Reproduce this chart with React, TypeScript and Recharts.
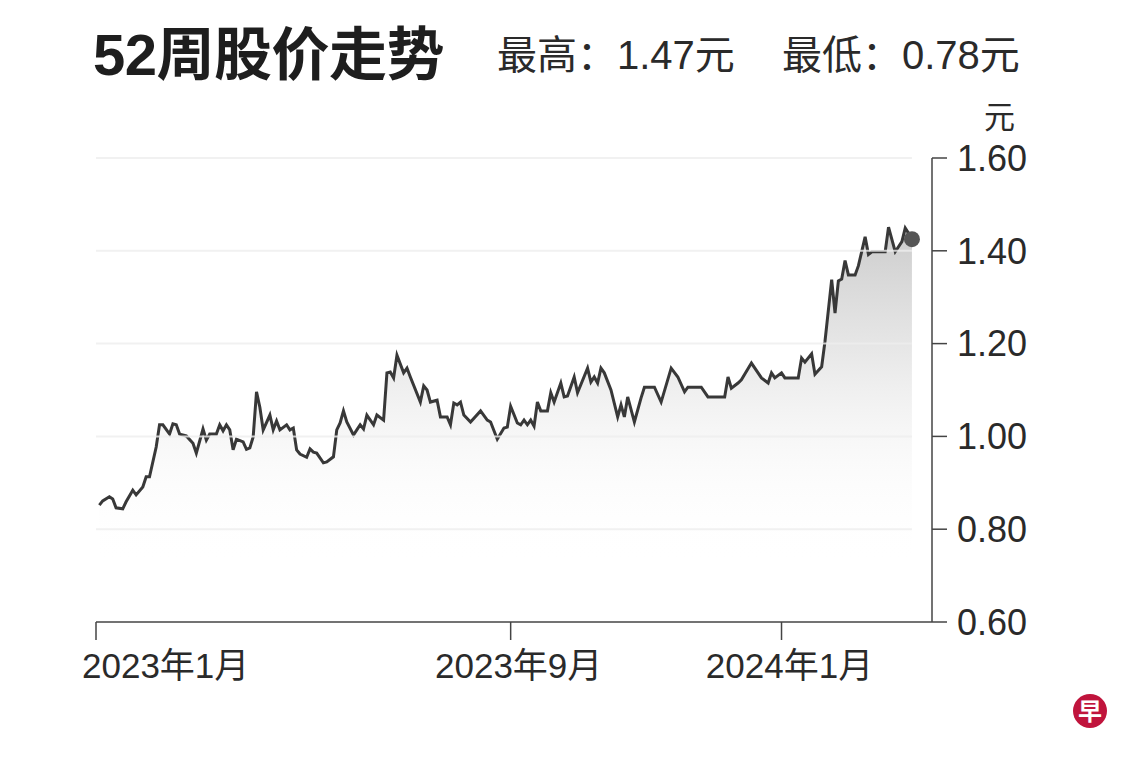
import { ComposedChart, Area, XAxis, YAxis, ReferenceLine, ReferenceDot } from "recharts";

// trading-day index (0 = start of Jan 2023) and closing price in 元
const tradingDays = [
  1, 2, 4, 5, 6, 8, 9, 11, 12, 14, 15, 16, 18, 19, 20, 22, 23, 24, 25, 27,
  29, 30, 32, 33, 34, 36, 37, 38, 39, 40, 41, 42, 44, 45, 46, 47, 48, 49, 50, 52,
  53, 54, 55, 57, 58, 59, 60, 61, 63, 64, 65, 66, 68, 69, 71, 72, 73, 74, 75, 77,
  78, 79, 80, 81, 83, 84, 86, 87, 88, 89, 90, 92, 93, 94, 97, 98, 99, 100, 102, 103,
  105, 106, 107, 108, 109, 110, 112, 115, 117, 118, 120, 122, 123, 124, 126, 127, 128, 129, 130, 131,
  132, 133, 135, 136, 137, 139, 140, 141, 143, 144, 147, 148, 149, 150, 151, 152, 154, 156, 157, 158,
  159, 161, 163, 164, 167, 169, 172, 174, 176, 177, 181, 183, 188, 189, 190, 192, 193, 196, 199, 201,
  202, 203, 205, 206, 210, 211, 212, 214, 215, 217, 218, 220, 221, 222, 223, 224, 225, 227, 228, 230,
  231, 232, 236, 237, 239, 241, 242, 243, 244,
];

const closePrices = [
  0.852, 0.861, 0.87, 0.865, 0.846, 0.844, 0.859, 0.884, 0.874, 0.891, 0.913, 0.913, 0.977, 1.025, 1.025, 1.005, 1.027, 1.025, 1.005, 1.001,
  0.985, 0.964, 1.016, 0.992, 1.005, 1.005, 1.025, 1.012, 1.025, 1.014, 0.971, 0.994, 0.988, 0.972, 0.975, 0.999, 1.096, 1.063, 1.014, 1.046,
  1.014, 1.033, 1.014, 1.025, 1.014, 1.018, 0.971, 0.962, 0.955, 0.973, 0.966, 0.964, 0.943, 0.945, 0.956, 1.014, 1.029, 1.055, 1.031, 1.003,
  1.014, 1.025, 1.016, 1.046, 1.025, 1.046, 1.035, 1.137, 1.139, 1.126, 1.175, 1.137, 1.147, 1.128, 1.074, 1.109, 1.1, 1.074, 1.078, 1.042,
  1.042, 1.025, 1.072, 1.068, 1.074, 1.046, 1.031, 1.055, 1.035, 1.031, 0.994, 1.018, 1.02, 1.065, 1.029, 1.025, 1.035, 1.025, 1.035, 1.022,
  1.074, 1.055, 1.055, 1.094, 1.074, 1.115, 1.085, 1.087, 1.128, 1.094, 1.147, 1.117, 1.128, 1.115, 1.147, 1.137, 1.1, 1.042, 1.068, 1.042,
  1.085, 1.031, 1.083, 1.106, 1.106, 1.074, 1.147, 1.128, 1.096, 1.106, 1.106, 1.085, 1.085, 1.128, 1.104, 1.115, 1.122, 1.158, 1.126, 1.115,
  1.137, 1.126, 1.137, 1.126, 1.126, 1.169, 1.16, 1.178, 1.134, 1.15, 1.205, 1.338, 1.266, 1.335, 1.339, 1.379, 1.348, 1.348, 1.368, 1.43,
  1.392, 1.398, 1.398, 1.451, 1.398, 1.42, 1.449, 1.438, 1.425,
];

const xTickDays = [0, 124, 205];
const xTickLabels = ["2023年1月", "2023年9月", "2024年1月"];
const yTicks = [0.6, 0.8, 1.0, 1.2, 1.4, 1.6];

const TITLE = "52周股价走势";
const HIGH_TEXT = "最高：1.47元";
const LOW_TEXT = "最低：0.78元";
const UNIT = "元";

const FONT = '"Liberation Sans", "Noto Sans CJK SC", sans-serif';
const INK = "#2a2a2a";

const rows = tradingDays.map((day, i) => ({ day, price: closePrices[i] }));
const lastRow = rows[rows.length - 1];
const gridEnd = 244;

function XTick(props: any) {
  const { x, y, payload, index } = props;
  const label = xTickLabels[xTickDays.indexOf(payload.value)];
  const first = index === 0;
  return (
    <text
      x={first ? x - 14 : x + 8}
      y={y + 36}
      textAnchor={first ? "start" : "middle"}
      fontSize={35}
      fontFamily={FONT}
      fill={INK}
    >
      {label}
    </text>
  );
}

export default function App() {
  return (
    <div style={{ position: "fixed", left: 0, top: 0, width: 1140, height: 760, background: "#fff", fontFamily: FONT }}>
      <div style={{ position: "absolute", left: 93, top: 8, fontSize: 58, fontWeight: 700, color: "#1e1e1e", letterSpacing: -0.5, whiteSpace: "nowrap" }}>
        {TITLE}
      </div>
      <div style={{ position: "absolute", left: 497, top: 23, fontSize: 40, color: INK, whiteSpace: "nowrap" }}>
        {HIGH_TEXT}
      </div>
      <div style={{ position: "absolute", left: 782, top: 23, fontSize: 40, color: INK, whiteSpace: "nowrap" }}>
        {LOW_TEXT}
      </div>
      <div style={{ position: "absolute", left: 984, top: 92, fontSize: 31, color: INK }}>{UNIT}</div>

      <ComposedChart
        width={1140}
        height={760}
        data={rows}
        margin={{ top: 158, right: 88, bottom: 78, left: 96 }}
      >
        <defs>
          <linearGradient id="priceFill" x1="0" y1="0" x2="0" y2="1">
            <stop offset="0%" stopColor="#a0a0a0" stopOpacity={0.9} />
            <stop offset="30%" stopColor="#c8c8c8" stopOpacity={0.75} />
            <stop offset="55%" stopColor="#e8e8e8" stopOpacity={0.5} />
            <stop offset="85%" stopColor="#ffffff" stopOpacity={0} />
          </linearGradient>
        </defs>
        <XAxis
          dataKey="day"
          type="number"
          domain={[0, 250]}
          ticks={xTickDays}
          tick={<XTick />}
          tickSize={18}
          axisLine={{ stroke: "#444", strokeWidth: 1.5 }}
          tickLine={{ stroke: "#444", strokeWidth: 1.5 }}
          height={60}
          interval={0}
        />
        <YAxis
          orientation="right"
          type="number"
          domain={[0.6, 1.6]}
          ticks={yTicks}
          width={120}
          tickSize={15}
          tickMargin={10}
          tickFormatter={(v: number) => v.toFixed(2)}
          tick={{ fontSize: 36, fill: INK, fontFamily: FONT, textAnchor: "start" }}
          axisLine={{ stroke: "#444", strokeWidth: 1.5 }}
          tickLine={{ stroke: "#444", strokeWidth: 1.5 }}
          interval={0}
        />
        <Area
          type="linear"
          dataKey="price"
          stroke="#383838"
          strokeWidth={3}
          fill="url(#priceFill)"
          dot={false}
          activeDot={false}
          isAnimationActive={false}
        />
        {yTicks.slice(1).map((v) => (
          <ReferenceLine
            key={v}
            segment={[{ x: 0, y: v }, { x: gridEnd, y: v }]}
            stroke="#eeeeee"
            strokeOpacity={0.8}
            strokeWidth={2}
          />
        ))}
        <ReferenceDot x={lastRow.day} y={lastRow.price} r={8} fill="#555" stroke="none" />
      </ComposedChart>

      <svg style={{ position: "absolute", left: 1072, top: 693 }} width={36} height={36}>
        <circle cx={18} cy={18} r={17} fill="#c0143c" />
        <text x={18} y={27} textAnchor="middle" fontSize={24} fontWeight={700} fill="#fff" fontFamily='"Noto Sans CJK SC", sans-serif'>
          早
        </text>
      </svg>
    </div>
  );
}
